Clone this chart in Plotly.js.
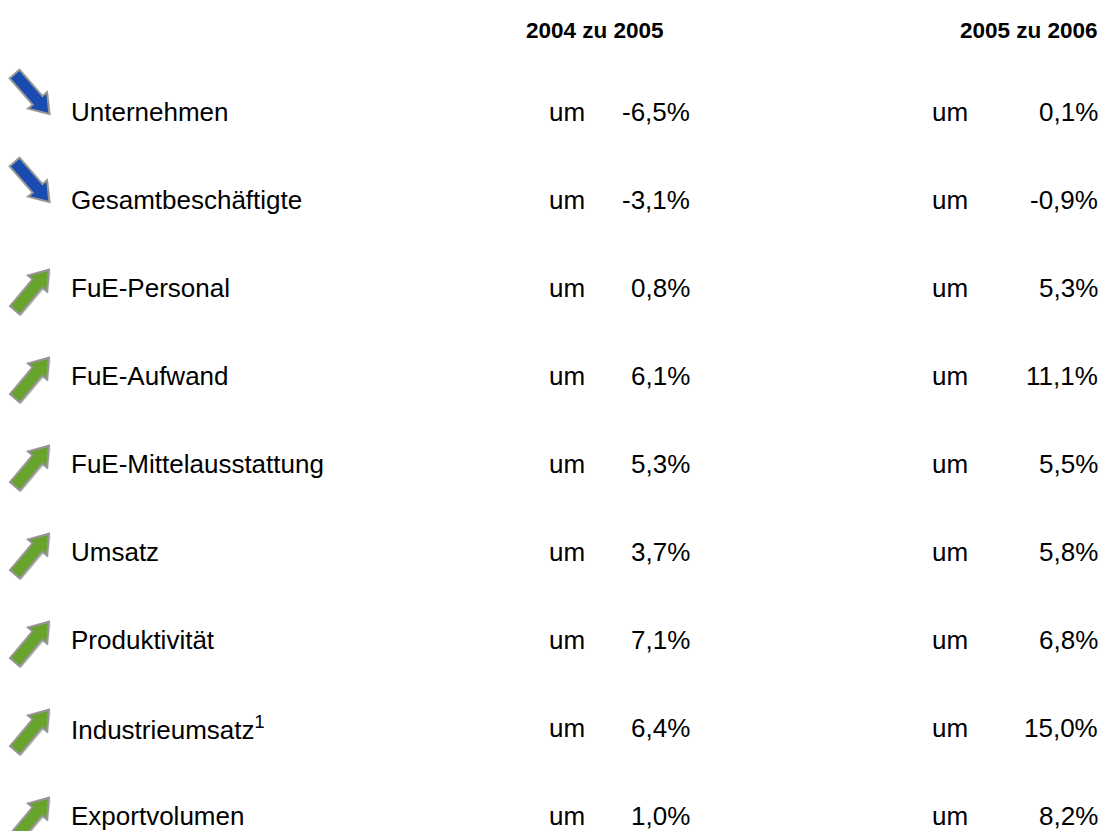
<!DOCTYPE html>
<html><head><meta charset="utf-8">
<script src="https://cdn.plot.ly/plotly-3.0.1.min.js"></script>
<style>html,body{margin:0;padding:0;background:#fff}#chart{width:1101px;height:831px}</style>
</head><body><div id="chart"></div>
<script>
const headers = ["2004 zu 2005", "2005 zu 2006"];
const categories = ["Unternehmen","Gesamtbeschäftigte","FuE-Personal","FuE-Aufwand","FuE-Mittelausstattung","Umsatz","Produktivität","Industrieumsatz<sup>1</sup>","Exportvolumen"];
const change2005 = ["-6,5%","-3,1%","0,8%","6,1%","5,3%","3,7%","7,1%","6,4%","1,0%"];
const change2006 = ["0,1%","-0,9%","5,3%","11,1%","5,5%","5,8%","6,8%","15,0%","8,2%"];
const trend = ["down","down","up","up","up","up","up","up","up"];

const FONT = "Liberation Sans, Arial, sans-serif";
const rowY = i => i;
const ann = [];
ann.push({x:595,y:-0.9318,text:"<b>"+headers[0]+"</b>",showarrow:false,xanchor:"center",yanchor:"middle",font:{family:FONT,size:22.5,color:"#000"}});
ann.push({x:1100,y:-0.9318,text:"<b>"+headers[1]+"</b>",showarrow:false,xanchor:"right",yanchor:"middle",font:{family:FONT,size:22.5,color:"#000"}});
categories.forEach((c,i)=>{
  const f={family:FONT,size:26,color:"#000"};
  ann.push({x:69,y:rowY(i),text:c,showarrow:false,xanchor:"left",yanchor:"middle",font:f});
  ann.push({x:567,y:rowY(i),text:"um",showarrow:false,xanchor:"center",yanchor:"middle",font:f});
  ann.push({x:692,y:rowY(i),text:change2005[i],showarrow:false,xanchor:"right",yanchor:"middle",font:f});
  ann.push({x:950,y:rowY(i),text:"um",showarrow:false,xanchor:"center",yanchor:"middle",font:f});
  ann.push({x:1100,y:rowY(i),text:change2006[i],showarrow:false,xanchor:"right",yanchor:"middle",font:f});
});

function arrowPath(angleDeg, dx, dy){
  const L=53, sw=6.5, hl=18, hw=12.5;
  const pts=[[-L/2,-sw],[L/2-hl,-sw],[L/2-hl,-hw],[L/2,0],[L/2-hl,hw],[L/2-hl,sw],[-L/2,sw]];
  const a=angleDeg*Math.PI/180, ca=Math.cos(a), sa=Math.sin(a);
  return "M"+pts.map(p=>[(p[0]*ca-p[1]*sa+dx).toFixed(1),(p[0]*sa+p[1]*ca+dy).toFixed(1)].join(",")).join("L")+"Z";
}
const shapes=[];
trend.forEach((t,i)=>{
  const up = t==="up";
  const ang = up ? 50 : -49;
  const oy = up ? -2 : 18;
  const fill = up ? "#68a32c" : "#1a4cb0";
  shapes.push({type:"path",xref:"x",yref:"y",xsizemode:"pixel",ysizemode:"pixel",xanchor:32,yanchor:rowY(i),
    path:arrowPath(ang,1.5,oy-1.5),fillcolor:"rgba(120,120,120,0.3)",line:{width:0}});
  shapes.push({type:"path",xref:"x",yref:"y",xsizemode:"pixel",ysizemode:"pixel",xanchor:32,yanchor:rowY(i),
    path:arrowPath(ang,0,oy),fillcolor:fill,line:{color:"#969696",width:2}});
});

const layout={
  width:1101,height:831,margin:{l:0,r:0,t:0,b:0},
  paper_bgcolor:"#fff",plot_bgcolor:"#fff",
  xaxis:{range:[0,1101],visible:false,fixedrange:true},
  yaxis:{range:[8.1705,-1.2727],visible:false,fixedrange:true},
  annotations:ann,shapes:shapes,showlegend:false
};
Plotly.newPlot("chart",[{x:[0],y:[0],mode:"markers",marker:{opacity:0},hoverinfo:"skip"}],layout,{displayModeBar:false,staticPlot:true});
</script></body></html>
